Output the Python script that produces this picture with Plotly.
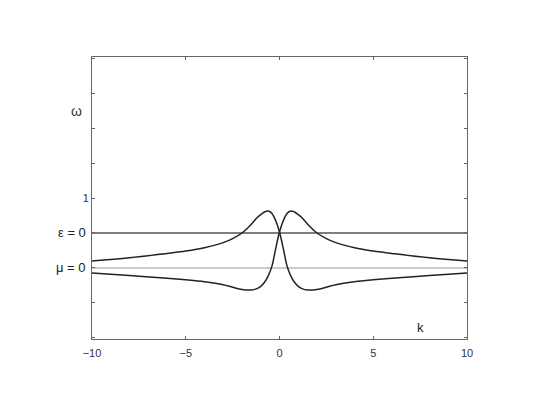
import plotly.graph_objects as go

# wave number grid
k_vals = [-10, -8, -6, -5, -4, -3, -2.5, -2, -1.5, -1.2, -1, -0.8, -0.6, -0.4, -0.2,
          0, 0.2, 0.4, 0.6, 0.8, 1.0, 1.2, 1.5, 2, 2.5, 3, 4, 5, 6, 8, 10]

# branch peaking at negative k
omega_a = [0.640, 0.658, 0.683, 0.697, 0.716, 0.745, 0.768, 0.800, 0.850, 0.887, 0.905,
           0.920, 0.926, 0.912, 0.870, 0.806, 0.712, 0.612, 0.555, 0.518, 0.495, 0.482,
           0.474, 0.477, 0.490, 0.504, 0.521, 0.532, 0.541, 0.557, 0.571]

# branch peaking at positive k
omega_b = [0.571, 0.557, 0.541, 0.532, 0.521, 0.504, 0.490, 0.477, 0.474, 0.482, 0.495,
           0.518, 0.555, 0.612, 0.712, 0.806, 0.870, 0.912, 0.926, 0.920, 0.905, 0.887,
           0.850, 0.800, 0.768, 0.745, 0.716, 0.697, 0.683, 0.658, 0.640]

eps_zero = 0.8
mu_zero = 0.6

x_ticks = [-10, -5, 0, 5, 10]
y_ticks = [0.2, 0.4, 0.6, 0.8, 1.0, 1.2, 1.4, 1.6, 1.8]
y_ticktext = ["", "", "", "", "1", "", "", "", ""]

TXT = "#333333"
AXIS = "#666666"

fig = go.Figure()
fig.add_trace(go.Scatter(x=[-10, 10], y=[eps_zero, eps_zero], mode="lines",
                         line=dict(color="#555555", width=1.5), hoverinfo="skip"))
fig.add_trace(go.Scatter(x=[-10, 10], y=[mu_zero, mu_zero], mode="lines",
                         line=dict(color="#999999", width=1.2), hoverinfo="skip"))
for w in (omega_a, omega_b):
    fig.add_trace(go.Scatter(x=k_vals, y=w, mode="lines", line_shape="spline",
                             line=dict(color="#222222", width=1.5)))

fig.add_annotation(x=0, y=1.5, xref="paper", yref="y", text="ω", showarrow=False,
                   xanchor="right", xshift=-8, font=dict(size=14, color=TXT))
fig.add_annotation(x=0, y=eps_zero, xref="paper", yref="y", text="ε = 0", showarrow=False,
                   xanchor="right", xshift=-4, font=dict(size=13, color="#222"))
fig.add_annotation(x=0, y=mu_zero, xref="paper", yref="y", text="μ = 0", showarrow=False,
                   xanchor="right", xshift=-4, font=dict(size=13, color="#222"))
fig.add_annotation(x=7.5, y=0.26, text="k", showarrow=False,
                   font=dict(size=13, color="#222"))

# page body adds an 8px offset, so the figure is shrunk by that much
fig.update_layout(
    width=537, height=401,
    margin=dict(l=84, r=78, t=49, b=70),
    paper_bgcolor="white", plot_bgcolor="white",
    showlegend=False,
    font=dict(family="Liberation Sans, Arial", size=11, color=TXT),
)
fig.update_xaxes(range=[-10, 10], tickvals=x_ticks, ticks="inside", ticklen=3,
                 tickcolor=AXIS, showgrid=False, zeroline=False, showline=True,
                 linecolor=AXIS, linewidth=1, mirror="ticks",
                 tickfont=dict(color=TXT, size=11), ticklabelstandoff=4)
fig.update_yaxes(range=[0.194, 1.806], tickvals=y_ticks, ticktext=y_ticktext,
                 ticks="inside", ticklen=3, tickcolor=AXIS, showgrid=False,
                 zeroline=False, showline=True, linecolor=AXIS, linewidth=1,
                 mirror="ticks", tickfont=dict(color=TXT, size=11))

fig.write_html("out.html")
